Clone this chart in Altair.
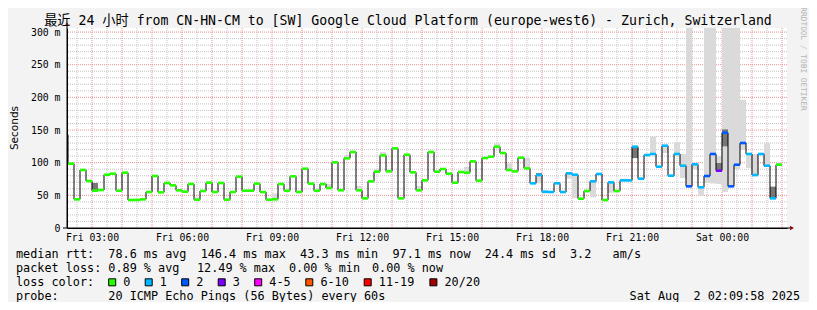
import altair as alt
import pandas as pd

TITLE = "最近 24 小时 from CN-HN-CM to [SW] Google Cloud Platform (europe-west6) - Zurich, Switzerland"
MONO = "DejaVu Sans Mono, Noto Sans CJK SC"

# time axis in minutes since Fri 00:00
graph_start = 130.0      # Fri 02:10
graph_end = 1570.0       # Sat 02:10
step_minutes = 12
first_step_start = 132

tick_minutes = [180, 360, 540, 720, 900, 1080, 1260, 1440]
tick_labels = ["Fri 03:00", "Fri 06:00", "Fri 09:00", "Fri 12:00",
               "Fri 15:00", "Fri 18:00", "Fri 21:00", "Sat 00:00"]
y_tick_values = [0, 50, 100, 150, 200, 250, 300]
y_tick_labels = ["0", "50 m", "100 m", "150 m", "200 m", "250 m", "300 m"]

prev_median = 143.0
median_ms = [
    98.4, 43.9, 88.8, 71.9, 57.1, 58.2, 81.6, 83.2, 57.1, 84.7,
    42.9, 42.9, 43.9, 55.1, 79.6, 54.6, 68.9, 65.3, 57.7, 55.6,
    67.3, 43.4, 56.6, 69.4, 55.1, 68.9, 43.4, 55.1, 78.6, 57.1,
    57.1, 67.9, 55.1, 43.4, 43.9, 67.3, 57.1, 79.1, 55.1, 90.8,
    67.9, 57.1, 67.3, 61.2, 100.5, 57.7, 106.6, 116.3, 57.7, 45.4,
    71.4, 86.2, 111.2, 86.7, 121.9, 45.4, 112.2, 85.2, 57.7, 72.9,
    116.3, 86.2, 90.3, 83.2, 69.4, 85.7, 84.7, 102.0, 72.5, 107.1,
    109.2, 124.5, 114.8, 88.8, 86.7, 107.6, 91.3, 68.4, 81.1, 55.6,
    55.1, 68.4, 55.1, 83.7, 81.6, 44.9, 56.6, 71.4, 82.7, 42.9,
    69.9, 56.6, 72.9, 72.9, 124.5, 75.5, 111.7, 113.3, 93.9, 126.0,
    80.1, 113.3, 95.4, 63.8, 97.5, 62.3, 79.6, 113.3, 87.7, 145.9,
    63.8, 96.9, 130.1, 113.3, 81.1, 113.3, 95.4, 45.4, 96.9,
]
lost_pings = [
    0, 0, 0, 0, 0, 0, 0, 0, 0, 0,
    0, 0, 0, 0, 0, 0, 0, 0, 0, 0,
    0, 0, 0, 0, 0, 0, 0, 0, 0, 0,
    0, 0, 0, 0, 0, 0, 0, 0, 0, 0,
    0, 0, 0, 0, 0, 0, 0, 0, 0, 0,
    0, 0, 0, 0, 0, 0, 0, 0, 0, 0,
    0, 0, 0, 0, 0, 0, 0, 0, 0, 0,
    0, 0, 0, 0, 0, 0, 0, 1, 1, 1,
    1, 1, 1, 1, 1, 0, 0, 1, 1, 0,
    1, 0, 1, 1, 1, 1, 1, 1, 1, 1,
    1, 1, 1, 2, 1, 1, 2, 2, 3, 2,
    2, 2, 2, 1, 1, 1, 1, 1, 0,
]

smoke_steps = [21, 23, 34, 43, 46, 48, 51, 52, 58, 66,
               71, 73, 76, 78, 79, 83, 84, 87, 90, 92,
               97, 99, 101, 102, 103, 104, 105, 106, 107, 108,
               109, 110, 111, 112, 113, 114, 116, 118]
smoke_low = [43.4, 69.4, 43.9, 61.2, 106.6, 57.7, 86.2, 111.2, 57.7, 84.7,
             124.5, 88.8, 91.3, 68.4, 52.5, 75.5, 45.9, 46.9, 54.0, 72.9,
             113.3, 114.8, 113.3, 76.5, 63.8, 90.0, 49.5, 68.9, 68.0, 67.3,
             55.0, 63.8, 90.0, 120.0, 91.8, 81.1, 95.4, 96.9]
smoke_high = [47.0, 71.5, 53.0, 67.3, 111.7, 64.3, 89.8, 116.3, 64.3, 93.4,
              129.6, 99.0, 107.6, 81.1, 55.6, 83.7, 81.6, 71.4, 69.9, 75.5,
              139.8, 126.0, 131.6, 113.3, 310.0, 97.5, 62.3, 310.0, 310.0, 110.0,
              310.0, 310.0, 310.0, 196.4, 113.3, 113.3, 130.0, 100.0]
core_steps = [4, 78, 94, 108, 109, 117]
core_low = [57.1, 81.1, 107.0, 87.7, 125.0, 45.4]
core_high = [69.0, 84.0, 124.5, 99.5, 151.0, 63.3]

loss_labels = ["0", "1", "2", "3", "4-5", "6-10", "11-19", "20/20"]
loss_colors = ["#26ff00", "#00b8ff", "#0059ff", "#7e00ff", "#ff00ff", "#ff5500", "#ff0000", "#a10000"]

rtt_line = "median rtt:  78.6 ms avg  146.4 ms max  43.3 ms min  97.1 ms now  24.4 ms sd  3.2   am/s"
loss_line_parts = ["packet loss: 0.89 % avg", "12.49 % max", "0.00 % min", "0.00 % now"]
loss_legend_title = "loss color:"
probe_line = "probe:       20 ICMP Echo Pings (56 Bytes) every 60s"
timestamp = "Sat Aug  2 02:09:58 2025"


def loss_label(n):
    if n <= 3:
        return str(n)
    if n <= 5:
        return "4-5"
    if n <= 10:
        return "6-10"
    if n <= 19:
        return "11-19"
    return "20/20"


def step_start(k):
    return first_step_start + step_minutes * k


def ternary(values, labels):
    expr = "''"
    for v, l in reversed(list(zip(values, labels))):
        expr = f"datum.value == {v} ? '{l}' : ({expr})"
    return expr


def nb(s):
    return s.replace(" ", "\u00a0")


all_medians = [prev_median] + median_ms
all_loss = [0] + lost_pings
rows = []
for j, (m, l) in enumerate(zip(all_medians, all_loss)):
    k = j - 1
    rows.append({"t0": step_start(k), "t1": step_start(k) + step_minutes,
                 "median": m, "loss": loss_label(l)})
med_df = pd.DataFrame(rows)
line_df = pd.DataFrame({"t": [r["t0"] for r in rows] + [rows[-1]["t1"]],
                        "median": all_medians + [all_medians[-1]]})
smoke_df = pd.DataFrame({"t0": [step_start(k) for k in smoke_steps],
                         "t1": [step_start(k) + step_minutes for k in smoke_steps],
                         "lo": smoke_low, "hi": smoke_high})
core_df = pd.DataFrame({"t0": [step_start(k) for k in core_steps],
                        "t1": [step_start(k) + step_minutes for k in core_steps],
                        "lo": core_low, "hi": core_high})

major_x = pd.DataFrame({"g": list(range(180, 1570, 60))})
minor_x = pd.DataFrame({"g": list(range(150, 1570, 60))})
major_y = pd.DataFrame({"g": [50, 100, 150, 200, 250, 300]})
minor_y = pd.DataFrame({"g": [v for v in range(10, 301, 10) if v % 50 != 0]})

xscale = alt.Scale(domain=[graph_start, graph_end], nice=False, zero=False)
yscale = alt.Scale(domain=[0, 306.2], nice=False, zero=True)
xaxis = alt.Axis(values=tick_minutes, labelExpr=ternary(tick_minutes, tick_labels), title=None,
                 grid=False, ticks=False, domain=True, domainColor="black", domainWidth=1,
                 labelFont=MONO, labelFontSize=9.8, labelColor="black", labelPadding=4,
                 labelAngle=0, labelFlush=False, labelOverlap=False, zindex=1)
yaxis = alt.Axis(values=y_tick_values, labelExpr=ternary(y_tick_values, y_tick_labels), title=None,
                 grid=False, ticks=False, domain=True, domainColor="black", domainWidth=1,
                 labelFont=MONO, labelFontSize=9.8, labelColor="black", labelPadding=7,
                 labelFlush=False, labelOverlap=False, zindex=1)

GRID_MINOR = "#c4c4c4"
GRID_MAJOR = "#e79191"

layers = []
layers.append(alt.Chart(minor_x).mark_rule(color=GRID_MINOR, strokeDash=[1, 1], strokeWidth=1)
              .encode(x=alt.X("g:Q", scale=xscale, axis=xaxis)))
layers.append(alt.Chart(minor_y).mark_rule(color=GRID_MINOR, strokeDash=[1, 1], strokeWidth=1)
              .encode(y=alt.Y("g:Q", scale=yscale, axis=yaxis)))
layers.append(alt.Chart(major_x).mark_rule(color=GRID_MAJOR, strokeDash=[1, 1], strokeWidth=1)
              .encode(x=alt.X("g:Q", scale=xscale, axis=xaxis)))
layers.append(alt.Chart(major_y).mark_rule(color=GRID_MAJOR, strokeDash=[1, 1], strokeWidth=1)
              .encode(y=alt.Y("g:Q", scale=yscale, axis=yaxis)))
layers.append(alt.Chart(smoke_df).mark_rect(color="#dadada", clip=True).encode(
    x=alt.X("t0:Q", scale=xscale, axis=xaxis), x2="t1:Q",
    y=alt.Y("lo:Q", scale=yscale, axis=yaxis), y2="hi:Q"))
layers.append(alt.Chart(core_df).mark_rect(color="#777777", clip=True).encode(
    x=alt.X("t0:Q", scale=xscale, axis=xaxis), x2="t1:Q",
    y=alt.Y("lo:Q", scale=yscale, axis=yaxis), y2="hi:Q"))
layers.append(alt.Chart(line_df).mark_line(interpolate="step-after", color="black", strokeWidth=1, clip=True)
              .encode(x=alt.X("t:Q", scale=xscale, axis=xaxis), y=alt.Y("median:Q", scale=yscale, axis=yaxis)))
layers.append(alt.Chart(med_df).mark_rule(strokeWidth=2.6, strokeCap="butt", clip=True).encode(
    x=alt.X("t0:Q", scale=xscale, axis=xaxis), x2="t1:Q",
    y=alt.Y("median:Q", scale=yscale, axis=yaxis),
    color=alt.Color("loss:N", scale=alt.Scale(domain=loss_labels, range=loss_colors), legend=None)))

dummy = pd.DataFrame({"d": [0]})


def text(t, x, y, size, align="left", font=MONO, color="black", angle=0):
    return alt.Chart(dummy).mark_text(fontSize=size, font=font, align=align, baseline="middle",
                                      color=color, angle=angle).encode(
        x=alt.value(x), y=alt.value(y), text=alt.value(nb(t)))


# axis arrows / extensions
layers.append(alt.Chart(dummy).mark_rule(color="black", strokeWidth=1).encode(
    x=alt.value(-4), x2=alt.value(724), y=alt.value(200)))
layers.append(alt.Chart(dummy).mark_rule(color="black", strokeWidth=1).encode(
    x=alt.value(0), y=alt.value(-3), y2=alt.value(200)))
layers.append(alt.Chart(dummy).mark_point(shape="triangle-right", filled=True, size=22, color="#8b1010", opacity=1)
              .encode(x=alt.value(725), y=alt.value(200)))
layers.append(alt.Chart(dummy).mark_point(shape="triangle-up", filled=True, size=18, color="#8b1010", opacity=1)
              .encode(x=alt.value(0), y=alt.value(-4)))

# texts
layers.append(text(TITLE, 341, -7, 13.2, align="center"))
layers.append(text("Seconds", -52.5, 100, 10.5, align="center", font="DejaVu Sans", angle=270))
layers.append(text("RRDTOOL / TOBI OETIKER", 735.5, 31, 7.8, align="center", color="#b4b4b4", angle=90))
layers.append(text(rtt_line, -51, 226.3, 11.8))
for part, px in zip(loss_line_parts, [-51, 130, 222, 305]):
    layers.append(text(part, px, 240.3, 11.8))
layers.append(text(loss_legend_title, -51, 254.3, 11.8))
layers.append(text(probe_line, -51, 268.0, 11.8))
layers.append(text(timestamp, 733, 268.0, 11.8, align="right"))

# loss colour legend
bx = 41.7
for lab, col in zip(loss_labels, loss_colors):
    layers.append(alt.Chart(dummy).mark_rect(fill=col, stroke="black", strokeWidth=1).encode(
        x=alt.value(bx), x2=alt.value(bx + 7), y=alt.value(250.8), y2=alt.value(257.8)))
    layers.append(text(lab, bx + 14.6, 254.3, 11.8))
    bx += (len(lab) + 4) * 7.3

chart = alt.layer(*layers).properties(
    width=720, height=200,
    autosize=alt.AutoSizeParams(type="none"),
    padding={"left": 59, "top": 20, "right": 22, "bottom": 74},
    background="#f3f3f3",
).configure_view(fill="white", strokeWidth=0)

chart.save("out.html", embed_options={"renderer": "svg", "actions": False})
